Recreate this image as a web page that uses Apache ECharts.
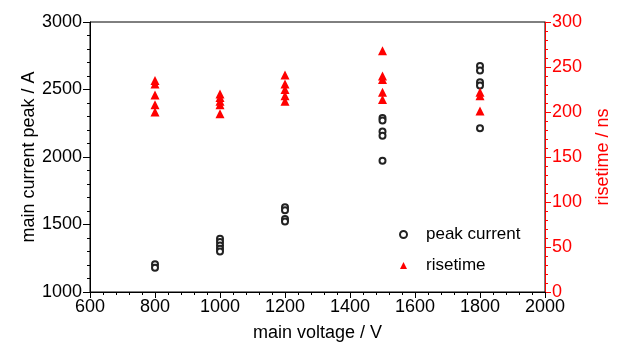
<!DOCTYPE html>
<html>
<head>
<meta charset="utf-8">
<script src="https://cdn.jsdelivr.net/npm/echarts@6/dist/echarts.min.js"></script>
<style>
  html, body { margin: 0; padding: 0; background: #fff; }
  #chart { width: 625px; height: 347px; }
</style>
</head>
<body>
<div id="chart"></div>
<script>
// main voltage (V) for each peak-current reading
const peakVoltage = [800, 800, 1000, 1000, 1000, 1000, 1000, 1200, 1200, 1200, 1200,
  1500, 1500, 1500, 1500, 1500, 1800, 1800, 1800, 1800, 1800];
const peakCurrent = [1205, 1180, 1395, 1370, 1345, 1320, 1300, 1628, 1605, 1540, 1522,
  2288, 2270, 2188, 2158, 1973, 2675, 2640, 2553, 2530, 2213];

// main voltage (V) for each risetime reading
const riseVoltage = [800, 800, 800, 800, 800, 1000, 1000, 1000, 1000, 1000,
  1200, 1200, 1200, 1200, 1200, 1500, 1500, 1500, 1500, 1500, 1800, 1800, 1800];
const riseTime = [235, 231, 219, 208, 200, 220, 216, 212, 208, 198,
  241, 231, 225, 218, 212, 268, 240, 236, 222, 214, 222, 218, 201];

const font = 'Liberation Sans, Arial, sans-serif';
const red = '#ff0000';

const chart = echarts.init(document.getElementById('chart'));

const peakData = peakVoltage.map((v, i) => [v, peakCurrent[i]]);
const riseData = riseVoltage.map((v, i) => [v, riseTime[i]]);
const plain = v => String(v);

const option = {
  animation: false,
  grid: {
    left: 90,
    right: 80,
    top: 22,
    bottom: 52,
    show: true,
    borderColor: '#000',
    borderWidth: 1,
  },
  legend: {
    orient: 'vertical',
    left: 394,
    top: 221,
    itemWidth: 7,
    itemHeight: 7,
    itemGap: 14,
    itemStyle: {borderWidth: 0.8},
    textStyle: {
      fontFamily: font,
      fontSize: 17,
      color: '#000',
      padding: [0, 0, 0, 14],
    },
    data: ['peak current', 'risetime'],
  },
  xAxis: {
    type: 'value',
    min: 600,
    max: 2000,
    interval: 200,
    name: 'main voltage / V',
    nameLocation: 'middle',
    nameGap: 32,
    nameTextStyle: {fontFamily: font, fontSize: 18, color: '#000'},
    axisLine: {show: true, lineStyle: {color: '#000', width: 1}},
    axisTick: {show: true, inside: false, length: 6, lineStyle: {color: '#000'}},
    minorTick: {show: true, splitNumber: 5, length: 3, lineStyle: {color: '#000'}},
    axisLabel: {fontFamily: font, fontSize: 18, color: '#000', margin: 6, formatter: plain},
    splitLine: {show: false},
  },
  yAxis: [
    {
      type: 'value',
      min: 1000,
      max: 3000,
      interval: 500,
      name: 'main current peak / A',
      nameLocation: 'middle',
      nameGap: 52,
      nameMoveOverlap: false,
      nameTextStyle: {fontFamily: font, fontSize: 18, color: '#000'},
      axisLine: {show: true, lineStyle: {color: '#000', width: 1}},
      axisTick: {show: true, inside: false, length: 7, lineStyle: {color: '#000'}},
      minorTick: {show: true, splitNumber: 5, length: 3, lineStyle: {color: '#000'}},
      axisLabel: {fontFamily: font, fontSize: 18, color: '#000', margin: 8, formatter: plain},
      splitLine: {show: false},
    },
    {
      type: 'value',
      min: 0,
      max: 300,
      interval: 50,
      position: 'right',
      name: 'risetime / ns',
      nameLocation: 'middle',
      nameGap: 49,
      nameRotate: 90,
      nameTextStyle: {fontFamily: font, fontSize: 18, color: red},
      axisLine: {show: true, lineStyle: {color: red, width: 1}},
      axisTick: {show: true, inside: false, length: 6, lineStyle: {color: red}},
      minorTick: {show: true, splitNumber: 5, length: 3, lineStyle: {color: red}},
      axisLabel: {fontFamily: font, fontSize: 18, color: red, margin: 7, formatter: plain},
      splitLine: {show: false},
    },
  ],
  series: [
    {
      name: 'peak current',
      type: 'scatter',
      yAxisIndex: 0,
      symbol: 'emptyCircle',
      symbolSize: 6,
      itemStyle: {color: '#222', borderColor: '#222', borderWidth: 0.8, opacity: 1},
      data: peakData,
    },
    {
      name: 'risetime',
      type: 'scatter',
      yAxisIndex: 1,
      symbol: 'triangle',
      symbolSize: 9,
      itemStyle: {color: red, opacity: 1},
      data: riseData,
    },
  ],
};

chart.setOption(option);
</script>
</body>
</html>
